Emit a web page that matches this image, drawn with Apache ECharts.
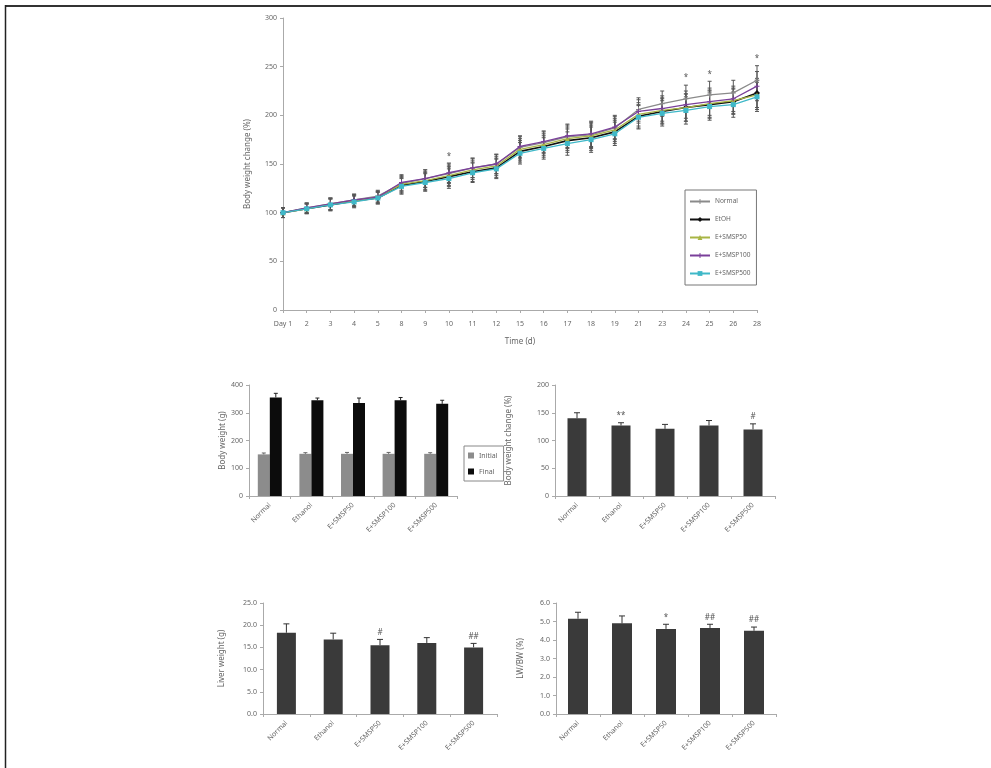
<!DOCTYPE html>
<html><head><meta charset="utf-8">
<script src="https://cdn.jsdelivr.net/npm/echarts@6/dist/echarts.min.js"></script>
<style>html,body{margin:0;padding:0;background:#fff}#c{width:991px;height:768px}</style>
</head><body><div id="c"></div>
<script>
// ---- Data ----
const days = ['Day 1','2','3','4','5','8','9','10','11','12','15','16','17','18','19','21','23','24','25','26','28'];
const normal  = [100,105,109,113,117,130,135,140,146,150,167,172,178,180,187,206,212,217,221,223,236];
const etoh    = [100,104,108,112,115,128,132,137,142,146,163,168,174,177,183,199,204,208,211,214,223];
const smsp50  = [100,104,109,112,116,129,133,138,144,148,165,170,176,179,185,201,205,208,212,215,221];
const smsp100 = [100,105,109,113,116,131,135,141,146,150,168,173,179,181,188,204,207,211,214,217,230];
const smsp500 = [100,104,108,111,115,127,131,135,141,145,161,166,171,175,181,198,202,205,209,211,219];
const lineErr = [5,5,6,6,6,8,9,10,10,10,11,11,12,13,12,12,13,14,14,13,15];
const lineStars = ['','','','','','','','*','','','','','','','','','','*','*','','*'];
const lineNames = ['Normal','EtOH','E+SMSP50','E+SMSP100','E+SMSP500'];

const groups = ['Normal','Ethanol','E+SMSP50','E+SMSP100','E+SMSP500'];
const bwInitial = [150,152,152,152,152];
const bwInitialErr = [5,4,5,5,4];
const bwFinal = [355,345,335,345,332];
const bwFinalErr = [15,8,18,10,13];
const bwChange = [140,127,121,127,120];
const bwChangeErr = [10,5,8,9,10];
const bwChangeSig = ['','**','','','#'];
const liver = [18.3,16.8,15.5,16.0,15.0];
const liverErr = [2.0,1.4,1.3,1.2,0.9];
const liverSig = ['','','#','','##'];
const lwbw = [5.15,4.9,4.6,4.65,4.5];
const lwbwErr = [0.35,0.4,0.25,0.2,0.2];
const lwbwSig = ['','','*','##','##'];

// ---- Styles ----
const FONT = 'Noto Sans';
const lbl = {color:'#666', fontSize:7, fontFamily:FONT};
const axisLine = {show:true, lineStyle:{color:'#aaa', width:1}};
const lineColors = ['#8a8a8a','#111111','#a8b545','#7a3f9a','#3fb8c8'];
const plusPath = 'path://M0,4L10,4L10,6L0,6ZM4,0L6,0L6,10L4,10Z';
const lineSymbols = [plusPath,'diamond','triangle',plusPath,'rect'];

function errRender(sigArr, offset, cap, color, sigSize, both){
  return function(params, api){
    const i = params.dataIndex;
    const x = api.value(0), v = api.value(1), e = api.value(2);
    const p0 = api.coord([x, v]);
    const p1 = api.coord([x, v + e]);
    const cx = p0[0] + offset;
    const ch = [
      {type:'line', shape:{x1:cx, y1:p0[1], x2:cx, y2:p1[1]}, style:{stroke:color, lineWidth:1}},
      {type:'line', shape:{x1:cx-cap, y1:p1[1], x2:cx+cap, y2:p1[1]}, style:{stroke:color, lineWidth:1}}
    ];
    if (both) {
      const p2 = api.coord([x, v - e]);
      ch.push({type:'line', shape:{x1:cx, y1:p0[1], x2:cx, y2:p2[1]}, style:{stroke:color, lineWidth:1}});
      ch.push({type:'line', shape:{x1:cx-cap, y1:p2[1], x2:cx+cap, y2:p2[1]}, style:{stroke:color, lineWidth:1}});
    }
    if (sigArr && sigArr[i]) {
      ch.push({type:'text', style:{text:sigArr[i], x:cx, y:p1[1]-3, align:'center', verticalAlign:'bottom', fill:'#555', font:sigSize+'px '+FONT}});
    }
    return {type:'group', children:ch};
  };
}

const grids = [
  {left:283, top:18, width:474, height:292},
  {left:249, top:385, width:208, height:111},
  {left:555, top:385, width:220, height:111},
  {left:263, top:603, width:234, height:111},
  {left:556, top:603, width:220, height:111}
];

function catAxis(gi){
  return {type:'category', gridIndex:gi, data:groups, boundaryGap:true,
    axisLine:axisLine, axisTick:{show:true, lineStyle:{color:'#aaa'}, length:3},
    axisLabel:Object.assign({}, lbl, {rotate:45, margin:8, interval:0})};
}
function valAxis(gi, max, interval, name, gap, dec){
  return {type:'value', gridIndex:gi, min:0, max:max, interval:interval,
    name:name, nameLocation:'middle', nameGap:gap, nameRotate:90,
    nameTextStyle:{color:'#666', fontSize:8, fontFamily:FONT},
    axisLine:axisLine, axisTick:{show:true, lineStyle:{color:'#aaa'}, length:3},
    splitLine:{show:false},
    axisLabel:Object.assign({}, lbl, {margin:6, formatter: v => dec ? v.toFixed(1) : String(v)})};
}

const series = [];
const lineData = [normal, etoh, smsp50, smsp100, smsp500];
lineData.forEach((arr, k) => {
  series.push({type:'line', name:lineNames[k], xAxisIndex:0, yAxisIndex:0, data:arr,
    symbol:lineSymbols[k], symbolSize: k===1?6:5, showSymbol:true,
    lineStyle:{color:lineColors[k], width: k===1?1.6:1.3},
    itemStyle:{color:lineColors[k]}, z:3+k});
  series.push({type:'custom', xAxisIndex:0, yAxisIndex:0, silent:true, z:2,
    data: arr.map((v,i)=>[i, v, lineErr[i]]),
    renderItem: errRender(k===0 ? lineStars : [], 0, 2, '#555', 8, true)});
});

series.push({type:'bar', name:'Initial', xAxisIndex:1, yAxisIndex:1, data:bwInitial, barWidth:12, barGap:'0%', itemStyle:{color:'#8c8c8c'}});
series.push({type:'bar', name:'Final', xAxisIndex:1, yAxisIndex:1, data:bwFinal, barWidth:12, barGap:'0%', itemStyle:{color:'#0c0c0c'}});
series.push({type:'custom', xAxisIndex:1, yAxisIndex:1, silent:true, z:5,
  data: bwInitial.map((v,i)=>[i, v, bwInitialErr[i]]), renderItem: errRender([], -6, 2, '#666', 8, false)});
series.push({type:'custom', xAxisIndex:1, yAxisIndex:1, silent:true, z:5,
  data: bwFinal.map((v,i)=>[i, v, bwFinalErr[i]]), renderItem: errRender([], 6, 2, '#222', 8, false)});

series.push({type:'bar', xAxisIndex:2, yAxisIndex:2, data:bwChange, barWidth:19, itemStyle:{color:'#3a3a3a'}});
series.push({type:'custom', xAxisIndex:2, yAxisIndex:2, silent:true, z:5,
  data: bwChange.map((v,i)=>[i, v, bwChangeErr[i]]), renderItem: errRender(bwChangeSig, 0, 3, '#333', 8, false)});
series.push({type:'bar', xAxisIndex:3, yAxisIndex:3, data:liver, barWidth:19, itemStyle:{color:'#3a3a3a'}});
series.push({type:'custom', xAxisIndex:3, yAxisIndex:3, silent:true, z:5,
  data: liver.map((v,i)=>[i, v, liverErr[i]]), renderItem: errRender(liverSig, 0, 3, '#333', 8, false)});
series.push({type:'bar', xAxisIndex:4, yAxisIndex:4, data:lwbw, barWidth:20, itemStyle:{color:'#3a3a3a'}});
series.push({type:'custom', xAxisIndex:4, yAxisIndex:4, silent:true, z:5,
  data: lwbw.map((v,i)=>[i, v, lwbwErr[i]]), renderItem: errRender(lwbwSig, 0, 3, '#333', 8, false)});

const option = {
  animation:false,
  backgroundColor:'#fff',
  textStyle:{fontFamily:FONT},
  grid: grids,
  legend:[
    {data:lineNames, orient:'vertical', left:685, top:190, width:72,
     padding:[8,6,8,4], itemGap:11, itemWidth:20, itemHeight:6,
     borderColor:'#777', borderWidth:1, backgroundColor:'#fff',
     textStyle:{color:'#666', fontSize:6.5, fontFamily:FONT, width:44}},
    {data:[{name:'Initial', icon:'rect'},{name:'Final', icon:'rect'}], orient:'vertical', left:464, top:446,
     padding:[6,6,6,4], itemGap:9, itemWidth:6, itemHeight:6,
     borderColor:'#888', borderWidth:1, textStyle:{color:'#666', fontSize:7, fontFamily:FONT}}
  ],
  xAxis:[
    {type:'category', gridIndex:0, data:days, boundaryGap:false,
     name:'Time (d)', nameLocation:'middle', nameGap:28,
     nameTextStyle:{color:'#666', fontSize:8, fontFamily:FONT},
     axisLine:axisLine, axisTick:{show:true, lineStyle:{color:'#aaa'}, length:3, alignWithLabel:true},
     axisLabel:Object.assign({}, lbl, {margin:10, interval:0})},
    catAxis(1), catAxis(2), catAxis(3), catAxis(4)
  ],
  yAxis:[
    valAxis(0, 300, 50, 'Body weight change (%)', 31, false),
    valAxis(1, 400, 100, 'Body weight (g)', 21, false),
    valAxis(2, 200, 50, 'Body weight change (%)', 42, false),
    valAxis(3, 25, 5, 'Liver weight (g)', 37, true),
    valAxis(4, 6, 1, 'LW/BW (%)', 31, true)
  ],
  graphic:[
    {type:'line', shape:{x1:5, y1:6, x2:991, y2:6}, style:{stroke:'#333', lineWidth:2}},
    {type:'line', shape:{x1:5.5, y1:5, x2:5.5, y2:768}, style:{stroke:'#222', lineWidth:1.5}}
  ],
  series: series
};
const chart = echarts.init(document.getElementById('c'), null, {renderer:'canvas'});
chart.setOption(option);
</script>
</body></html>
